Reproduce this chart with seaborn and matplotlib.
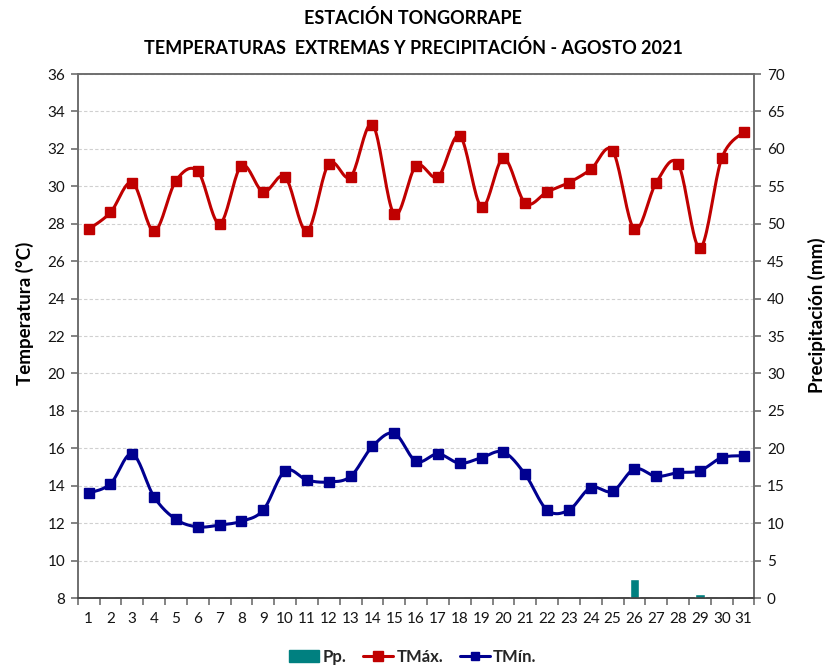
import numpy as np
import pandas as pd
import matplotlib
matplotlib.use("Agg")
import matplotlib.pyplot as plt
import seaborn as sns
from matplotlib.lines import Line2D
from matplotlib.patches import Patch

days = list(range(1, 32))
tmax = [27.7, 28.6, 30.2, 27.6, 30.3, 30.8, 28.0, 31.1, 29.7, 30.5,
        27.6, 31.2, 30.5, 33.3, 28.5, 31.1, 30.5, 32.7, 28.9, 31.5,
        29.1, 29.7, 30.2, 30.9, 31.9, 27.7, 30.2, 31.2, 26.7, 31.5, 32.9]
tmin = [13.6, 14.1, 15.7, 13.4, 12.2, 11.8, 11.9, 12.1, 12.7, 14.8,
        14.3, 14.2, 14.5, 16.1, 16.8, 15.3, 15.7, 15.2, 15.5, 15.8,
        14.6, 12.7, 12.7, 13.9, 13.7, 14.9, 14.5, 14.7, 14.8, 15.5, 15.6]
pp = [0]*25 + [2.5, 0, 0, 0.6, 0, 0]

RED = "#C00000"
BLUE = "#000090"
TEAL = "#008080"
FONT = "Lato"

sns.set_theme(style="white")
plt.rcParams['font.family'] = [FONT, 'DejaVu Sans']


def smooth(x, y, n=20):
    # Catmull-Rom smoothing (Excel-like smoothed line)
    x = np.asarray(x, float); y = np.asarray(y, float)
    px = np.concatenate([[x[0]], x, [x[-1]]])
    py = np.concatenate([[y[0]], y, [y[-1]]])
    xs, ys = [], []
    for i in range(1, len(px) - 2):
        t = np.linspace(0, 1, n, endpoint=False)
        for arr, out in ((px, xs), (py, ys)):
            p0, p1, p2, p3 = arr[i-1], arr[i], arr[i+1], arr[i+2]
            out.extend(0.5*((2*p1) + (-p0+p2)*t + (2*p0-5*p1+4*p2-p3)*t**2 + (-p0+3*p1-3*p2+p3)*t**3))
    xs.append(x[-1]); ys.append(y[-1])
    return np.array(xs), np.array(ys)


fig = plt.figure(figsize=(8.26, 6.65), dpi=100)
ax = fig.add_axes([77.7/826, 1-598/665, (754.5-77.7)/826, (598-74)/665])
ax2 = ax.twinx()

# precipitation bars
dfp = pd.DataFrame({"day": days, "pp": pp})
sns.barplot(data=dfp, x="day", y="pp", native_scale=True, width=0.42,
            color=TEAL, saturation=1, ax=ax2, zorder=2)

# temperature lines
for vals, col, ms in ((tmax, RED, 7.5), (tmin, BLUE, 6.5)):
    sx, sy = smooth(days, vals)
    sns.lineplot(x=sx, y=sy, color=col, lw=2.2, sort=False, ax=ax, zorder=3)
    ax.plot(days, vals, ls='none', marker='s', ms=ms, color=col, zorder=4)

ax.set_xlim(0.5, 31.5)
ax.set_ylim(8, 36)
ax2.set_ylim(0, 70)
ax.set_yticks(np.arange(8, 37, 2))
ax2.set_yticks(np.arange(0, 71, 5))
ax.set_xticks(days)
ax.set_xticks(np.arange(0.5, 31.6, 1), minor=True)
ax.set_xticklabels([str(d) for d in days])
ax.grid(axis='y', color='#D0D0D0', ls=(0, (3, 2)), lw=0.8)
ax.set_axisbelow(True)
ax2.grid(False)

spine_col = '#6E6E6E'
for a in (ax, ax2):
    for s in a.spines.values():
        s.set_color(spine_col)
        s.set_linewidth(1.2)
ax2.spines['bottom'].set_color('#404040')

tick_col = '#141414'
ax.tick_params(axis='x', which='major', length=0, pad=10, labelsize=11, colors=tick_col)
ax.tick_params(axis='x', which='minor', length=5, width=1.2, color=spine_col, direction='out', bottom=True)
ax.tick_params(axis='y', length=5, width=1.2, color=spine_col, direction='out', labelsize=11,
               labelcolor=tick_col, left=True, pad=4)
ax2.tick_params(axis='y', length=5, width=1.2, color=spine_col, direction='out', labelsize=11,
                labelcolor=tick_col, right=True, pad=4)
ax2.set_xlabel('')

ax.set_ylabel('Temperatura (°C)', fontsize=13.5, fontweight='bold', color='black')
ax.yaxis.set_label_coords(-0.064, 0.544)
ax2.set_ylabel('Precipitación (mm)', fontsize=13.5, fontweight='bold', color='black')
ax2.yaxis.set_label_coords(1.0795, 0.54)

fig.text(0.5, 1-18/665, 'ESTACIÓN TONGORRAPE', ha='center', va='center',
         fontsize=13, fontweight='bold', color='black')
fig.text(0.5, 1-48/665, 'TEMPERATURAS  EXTREMAS Y PRECIPITACIÓN - AGOSTO 2021', ha='center',
         va='center', fontsize=13, fontweight='bold', color='black')

handles = [Patch(color=TEAL),
           Line2D([], [], color=RED, lw=2.2, marker='s', ms=7),
           Line2D([], [], color=BLUE, lw=2.2, marker='s', ms=6)]
leg = fig.legend(handles, ['Pp.', 'TMáx.', 'TMín.'], loc='center', bbox_to_anchor=(0.5, 1-657/665),
                 ncol=3, frameon=False, prop={'weight': 'bold', 'size': 12},
                 handlelength=1.8, handletextpad=0.2, columnspacing=1.0)

fig.savefig('out.png', dpi=100)
